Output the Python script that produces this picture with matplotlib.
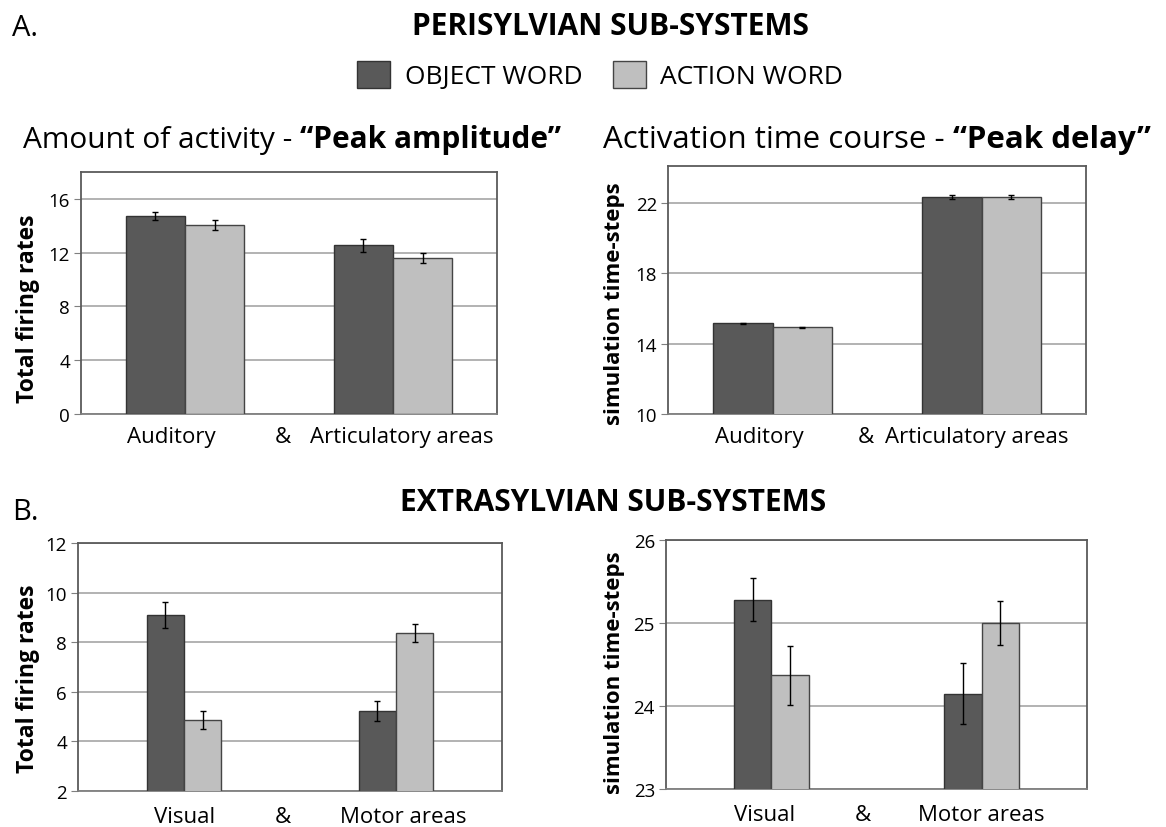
import matplotlib
matplotlib.use("Agg")
import matplotlib.pyplot as plt
from matplotlib.patches import Patch

plt.rcParams['font.family'] = ['Open Sans', 'DejaVu Sans']

# data
series = ["OBJECT WORD", "ACTION WORD"]

peri_groups = ["Auditory", "Articulatory areas"]
peri_amp_object = [14.75, 12.55]
peri_amp_object_err = [0.30, 0.47]
peri_amp_action = [14.08, 11.63]
peri_amp_action_err = [0.37, 0.38]

peri_delay_object = [15.15, 22.35]
peri_delay_object_err = [0.05, 0.10]
peri_delay_action = [14.94, 22.35]
peri_delay_action_err = [0.03, 0.10]

extra_groups = ["Visual", "Motor areas"]
extra_amp_object = [9.10, 5.24]
extra_amp_object_err = [0.54, 0.40]
extra_amp_action = [4.86, 8.37]
extra_amp_action_err = [0.36, 0.38]

extra_delay_object = [25.28, 24.15]
extra_delay_object_err = [0.26, 0.37]
extra_delay_action = [24.37, 25.00]
extra_delay_action_err = [0.355, 0.26]

DARK = "#595959"
LIGHT = "#bfbfbf"
W, H = 1166, 828


def px_axes(fig, left, top, right, bottom):
    return fig.add_axes([left / W, 1 - bottom / H, (right - left) / W, (bottom - top) / H])


def bar_panel(ax, obj, obj_err, act, act_err, groups, width, ylim, yticks,
              ylabel, ylabel_size, label_x, ylabel_xy, xpad):
    x = [0, 1]
    ekw = dict(ecolor="black", elinewidth=1.0, capsize=2.5, capthick=1.0)
    ax.bar([i - width / 2 for i in x], obj, width, yerr=obj_err, color=DARK,
           edgecolor="#333333", linewidth=1.0, error_kw=ekw, zorder=3)
    ax.bar([i + width / 2 for i in x], act, width, yerr=act_err, color=LIGHT,
           edgecolor="#444444", linewidth=1.0, error_kw=ekw, zorder=3)
    ax.set_xlim(-0.5, 1.5)
    ax.set_ylim(*ylim)
    ax.set_yticks(yticks)
    ax.yaxis.grid(True, color="#a6a6a6", linewidth=1.2, zorder=0)
    ax.set_axisbelow(True)
    for s in ax.spines.values():
        s.set_color("#5a5a5a")
        s.set_linewidth(1.3)
    ax.spines["bottom"].set_color("#7f7f7f")
    ax.tick_params(axis="y", length=5, color="#7f7f7f", labelsize=13.5, pad=3)
    ax.set_xticks(label_x)
    ax.set_xticklabels([groups[0], "&", groups[1]], fontsize=16)
    ax.tick_params(axis="x", length=0, pad=xpad)
    ax.set_ylabel(ylabel, fontsize=ylabel_size, fontweight="bold")
    ax.yaxis.set_label_coords(*ylabel_xy)


fig = plt.figure(figsize=(W / 100, H / 100), dpi=100)

ax1 = px_axes(fig, 81, 173, 497, 415)
bar_panel(ax1, peri_amp_object, peri_amp_object_err, peri_amp_action, peri_amp_action_err,
          peri_groups, 0.285, (0, 18), [0, 4, 8, 12, 16], "Total firing rates", 16.5,
          [-0.067, 0.471, 1.043], (-0.099, 0.44), 9)

ax2 = px_axes(fig, 668, 167, 1086, 415)
bar_panel(ax2, peri_delay_object, peri_delay_object_err, peri_delay_action, peri_delay_action_err,
          peri_groups, 0.287, (10, 24.1), [10, 14, 18, 22], "simulation time-steps", 16,
          [-0.065, 0.447, 0.978], (-0.103, 0.45), 9)

ax3 = px_axes(fig, 78, 544, 502, 792)
bar_panel(ax3, extra_amp_object, extra_amp_object_err, extra_amp_action, extra_amp_action_err,
          extra_groups, 0.176, (2, 12), [2, 4, 6, 8, 10, 12], "Total firing rates", 16.5,
          [0.005, 0.467, 1.033], (-0.09, 0.456), 11)

ax4 = px_axes(fig, 666, 541, 1087, 790)
bar_panel(ax4, extra_delay_object, extra_delay_object_err, extra_delay_action, extra_delay_action_err,
          extra_groups, 0.178, (23, 26), [23, 24, 25, 26], "simulation time-steps", 16,
          [-0.03, 0.436, 1.0], (-0.097, 0.47), 11)

# headings
fig.text(12 / W, 1 - 28 / H, "A.", fontsize=21, va="center", ha="left")
fig.text(610 / W, 1 - 27 / H, "PERISYLVIAN SUB-SYSTEMS", fontsize=21.5, fontweight="bold",
         va="center", ha="center")
fig.text(12 / W, 1 - 513 / H, "B.", fontsize=21, va="center", ha="left")
fig.text(613 / W, 1 - 503 / H, "EXTRASYLVIAN SUB-SYSTEMS", fontsize=21.5, fontweight="bold",
         va="center", ha="center")

handles = [Patch(facecolor=DARK, edgecolor="#333333"), Patch(facecolor=LIGHT, edgecolor="#444444")]
fig.legend(handles, series, loc="center", bbox_to_anchor=(600 / W, 1 - 76 / H), ncol=2,
           frameon=False, fontsize=19, handlelength=1.25, handleheight=1.25,
           columnspacing=1.15, handletextpad=0.55)

t1 = fig.text(23 / W, 1 - 148 / H, "Amount of activity - ", fontsize=21.5, va="baseline")
plt.annotate("\u201cPeak amplitude\u201d", xy=(1, 0), xycoords=t1, va="bottom",
             fontsize=21.5, fontweight="bold")
t2 = fig.text(603 / W, 1 - 148 / H, "Activation time course - ", fontsize=22.5, va="baseline")
plt.annotate("\u201cPeak delay\u201d", xy=(1, 0), xycoords=t2, va="bottom",
             fontsize=22.5, fontweight="bold")

fig.savefig("out.png", dpi=100)
